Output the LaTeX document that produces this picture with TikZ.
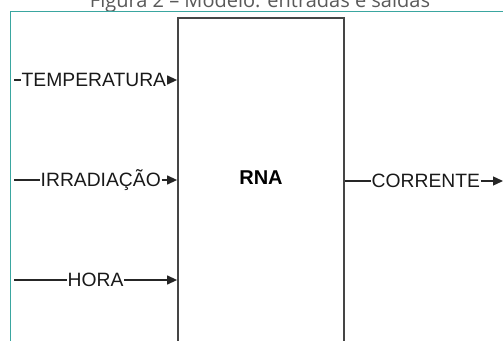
\documentclass[tikz,border=0pt]{standalone}
\usepackage{fontspec}
\setmainfont{Liberation Sans}
\newfontfamily\capfont{Open Sans}
\usetikzlibrary{arrows.meta}
\definecolor{frameteal}{HTML}{3AA6A0}
\definecolor{boxgray}{HTML}{454545}
\tikzset{
  lbl/.style={inner sep=0.5pt, font=\fontsize{19.3}{21}\selectfont, text=black!90},
  conn/.style={line width=1.3pt, draw=black!85},
  arr/.style={conn, -{Triangle[length=10pt,width=9pt]}},
  rnabox/.style={draw=boxgray, line width=1.8pt, minimum width=166pt, minimum height=340pt, anchor=north, inner sep=0pt},
}
\begin{document}
\begin{tikzpicture}[x=1pt,y=-1pt]
\useasboundingbox (0,0) rectangle (503,340);
% caption (top part cut off)
\node[anchor=base, font=\capfont\fontsize{20}{22}\selectfont, text=black!65] (cap) at (260,7.5) {Figura 2 – Modelo: entradas e saídas};
% teal frame
\draw[frameteal, line width=1.2pt] (10.7,345) -- (10.7,11.7) -- (510,11.7);
% RNA box
\node[rnabox] (rna) at (261,17) {};
\node[font=\fontsize{20}{22}\selectfont\bfseries] (rnal) at (261,178) {RNA};
% inputs
\coordinate (s1) at (14,80);
\coordinate (s2) at (14,180);
\coordinate (s3) at (14,280);
\node[lbl, anchor=west] (t1) at (21,80) {TEMPERATURA};
\node[lbl, anchor=west] (t2) at (40,180) {IRRADIAÇÃO};
\node[lbl, anchor=west] (t3) at (67,280) {HORA};
\draw[conn] (s1) -- (t1.west);
\draw[arr] (t1.east) -- (rna.west |- t1.east);
\draw[conn] (s2) -- (t2.west);
\draw[arr] (t2.east) -- (rna.west |- t2.east);
\draw[conn] (s3) -- (t3.west);
\draw[arr] (t3.east) -- (rna.west |- t3.east);
% output
\coordinate (e4) at (503,181);
\node[lbl, anchor=west] (t4) at (371,181) {CORRENTE};
\draw[conn] (rna.east |- t4.west) -- (t4.west);
\draw[arr] (t4.east) -- (e4);
\end{tikzpicture}
\end{document}
